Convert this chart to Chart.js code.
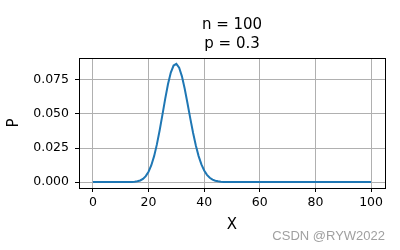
<!DOCTYPE html>
<html>
<head>
<meta charset="utf-8">
<script src="https://cdn.jsdelivr.net/npm/chart.js@4/dist/chart.umd.min.js"></script>
<style>
  html, body { margin: 0; padding: 0; background: #fff; }
  #wrap { width: 400px; height: 250px; position: relative; }
</style>
</head>
<body>
<div id="wrap"><canvas id="c" width="400" height="250"></canvas></div>
<script>
const titleLines = ['n = 100', 'p = 0.3'];
const xLabel = 'X';
const yLabel = 'P';
const watermark = 'CSDN @RYW2022';

const xValues = [
  0, 1, 2, 3, 4, 5, 6, 7, 8, 9,
  10, 11, 12, 13, 14, 15, 16, 17, 18, 19,
  20, 21, 22, 23, 24, 25, 26, 27, 28, 29,
  30, 31, 32, 33, 34, 35, 36, 37, 38, 39,
  40, 41, 42, 43, 44, 45, 46, 47, 48, 49,
  50, 51, 52, 53, 54, 55, 56, 57, 58, 59,
  60, 61, 62, 63, 64, 65, 66, 67, 68, 69,
  70, 71, 72, 73, 74, 75, 76, 77, 78, 79,
  80, 81, 82, 83, 84, 85, 86, 87, 88, 89,
  90, 91, 92, 93, 94, 95, 96, 97, 98, 99,
  100
];

const probabilities = [
  0, 0, 0, 0, 0, 0, 0, 0, 0, 0,
  0, 0.0000041, 0.0000131, 0.0000379, 0.000101, 0.000248, 0.000564, 0.001195, 0.002361, 0.004367,
  0.00758, 0.01237, 0.01904, 0.02767, 0.03804, 0.04956, 0.06127, 0.07197, 0.08041, 0.08556,
  0.08678, 0.08398, 0.07761, 0.06854, 0.05788, 0.04678, 0.03620, 0.02683, 0.01907, 0.01299,
  0.00849, 0.00532, 0.00321, 0.001853, 0.001029, 0.000549, 0.000281, 0.000138, 0.0000655, 0.0000298,
  0.0000130, 0.0000055, 0, 0, 0, 0, 0, 0, 0, 0,
  0, 0, 0, 0, 0, 0, 0, 0, 0, 0,
  0, 0, 0, 0, 0, 0, 0, 0, 0, 0,
  0, 0, 0, 0, 0, 0, 0, 0, 0, 0,
  0, 0, 0, 0, 0, 0, 0, 0, 0, 0,
  0
];

const xTicks = [0, 20, 40, 60, 80, 100];
const yTicks = [0, 0.025, 0.05, 0.075];

const FONT = "'DejaVu Sans', sans-serif";

const framePlugin = {
  id: 'frame',
  afterDatasetsDraw(chart) {
    const {ctx, chartArea: a} = chart;
    ctx.save();
    ctx.strokeStyle = '#000';
    ctx.lineWidth = 1;
    ctx.strokeRect(Math.round(a.left) + 0.5, Math.round(a.top) + 0.5,
                   Math.round(a.right - a.left), Math.round(a.bottom - a.top));
    ctx.restore();
  },
  afterDraw(chart) {
    const {ctx, chartArea: a} = chart;
    ctx.save();
    ctx.fillStyle = '#000';
    ctx.font = "15px " + FONT;
    ctx.textAlign = 'center';
    ctx.textBaseline = 'alphabetic';
    const cx = (a.left + a.right) / 2;
    ctx.fillText(titleLines[0], cx, 29);
    ctx.fillText(titleLines[1], cx, 47.5);
    ctx.fillStyle = '#a0a0a0';
    ctx.font = "13px 'Liberation Sans', Arial, sans-serif";
    ctx.textAlign = 'right';
    ctx.fillText(watermark, 385, 240);
    ctx.restore();
  }
};

new Chart(document.getElementById('c'), {
  type: 'line',
  data: {
    datasets: [{
      data: xValues.map((x, i) => ({x: x, y: probabilities[i]})),
      borderColor: '#1f77b4',
      borderWidth: 2,
      pointRadius: 0,
      fill: false,
      tension: 0
    }]
  },
  options: {
    responsive: false,
    animation: false,
    devicePixelRatio: 1,
    layout: { padding: { left: 0, right: 15, top: 58, bottom: 0 } },
    plugins: {
      legend: { display: false },
      tooltip: { enabled: false },
      title: { display: false }
    },
    scales: {
      x: {
        type: 'linear',
        min: -5,
        max: 105,
        afterBuildTicks(scale) { scale.ticks = xTicks.map(v => ({value: v})); },
        afterFit(scale) { scale.height = 62; },
        ticks: {
          color: '#000',
          font: { family: FONT, size: 12.5 },
          padding: 3,
          maxRotation: 0,
          autoSkip: false,
          callback: v => String(v)
        },
        grid: { color: '#b0b0b0', lineWidth: 1, tickColor: '#000', tickLength: 4 },
        border: { display: true, color: '#000' },
        title: {
          display: true, text: xLabel, color: '#000',
          font: { family: FONT, size: 15 },
          padding: { top: 0, bottom: 16 }
        }
      },
      y: {
        type: 'linear',
        min: -0.00434,
        max: 0.0911,
        afterBuildTicks(scale) { scale.ticks = yTicks.map(v => ({value: v})); },
        afterFit(scale) { scale.width = 79; },
        ticks: {
          color: '#000',
          font: { family: FONT, size: 12.5 },
          padding: 6,
          autoSkip: false,
          callback: v => Number(v).toFixed(3)
        },
        grid: { color: '#b0b0b0', lineWidth: 1, tickColor: '#000', tickLength: 4 },
        border: { display: true, color: '#000' },
        title: {
          display: true, text: yLabel, color: '#000',
          font: { family: FONT, size: 15 },
          padding: { top: 5, bottom: 0 }
        }
      }
    }
  },
  plugins: [framePlugin]
});
</script>
</body>
</html>
